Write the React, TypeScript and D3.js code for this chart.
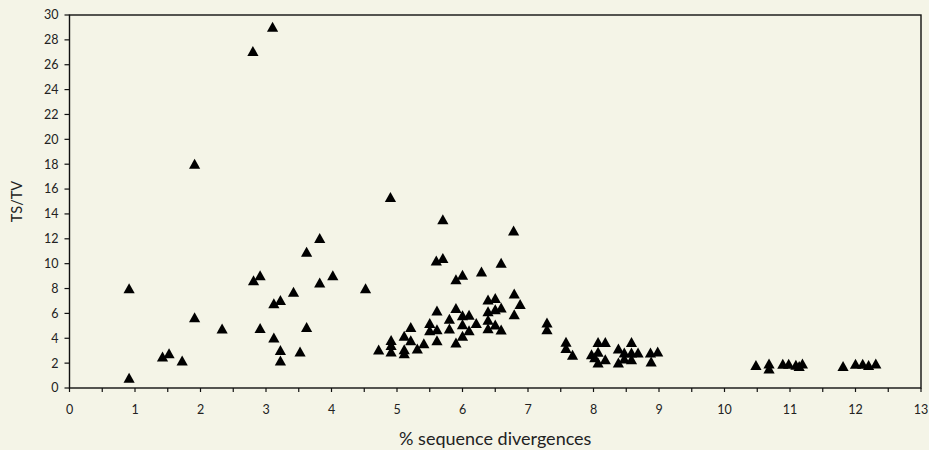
import React from "react";
import * as d3 from "d3";

const xVals = [
  0.91, 0.91, 1.42, 1.52, 1.72, 1.91, 1.91, 2.33, 2.80, 3.10, 2.81, 2.91, 2.91, 3.12, 3.22, 3.12, 3.22, 3.22,
  3.42, 3.52, 3.62, 3.62, 3.82, 3.82, 4.02, 4.52, 4.72,
  4.90, 4.91, 4.91, 4.91, 5.11, 5.11, 5.11, 5.21, 5.21, 5.31, 5.41, 5.50, 5.50, 5.61, 5.61, 5.61, 5.60, 5.70,
  5.70, 5.80, 5.80, 5.90, 5.90, 6.00, 5.90, 6.00, 6.00, 6.00, 6.10, 6.10, 6.21, 6.29, 6.39, 6.50, 6.39, 6.50,
  6.59, 6.39, 6.39, 6.50, 6.59, 6.59, 6.78, 6.79, 6.88, 6.79, 7.29, 7.29, 7.58, 7.58, 7.68,
  7.97, 8.02, 8.07, 8.18, 8.07, 8.18, 8.07, 8.38, 8.38, 8.47, 8.47, 8.58, 8.58, 8.68, 8.58, 8.87, 8.98, 8.88,
  10.48, 10.68, 10.68, 10.89, 10.98, 11.09, 11.19, 11.14, 11.81, 12.0, 12.11, 12.2, 12.31,
];

const yVals = [
  7.95, 0.75, 2.47, 2.73, 2.15, 17.97, 5.63, 4.72, 27.05, 29.0, 8.6, 9.0, 4.77, 6.76, 7.02, 4.0, 3.0, 2.15,
  7.67, 2.87, 10.9, 4.85, 12.0, 8.42, 9.0, 7.96, 3.03,
  15.3, 3.8, 3.4, 2.87, 4.13, 3.06, 2.74, 4.85, 3.78, 3.11, 3.54, 5.17, 4.59, 6.17, 4.67, 3.78, 10.2, 10.4,
  13.5, 5.5, 4.72, 6.38, 8.69, 9.04, 3.6, 5.79, 5.07, 4.13, 5.82, 4.59, 5.17, 9.3, 7.05, 7.18, 6.11, 6.27,
  6.41, 5.42, 4.75, 5.04, 4.64, 10.0, 12.6, 7.54, 6.7, 5.87, 5.2, 4.67, 3.65, 3.15, 2.6,
  2.65, 2.4, 3.64, 3.64, 1.99, 2.25, 2.85, 3.11, 1.99, 2.79, 2.3, 3.64, 2.79, 2.79, 2.25, 2.79, 2.87, 2.07,
  1.78, 1.9, 1.5, 1.89, 1.89, 1.81, 1.91, 1.7, 1.7, 1.89, 1.89, 1.78, 1.91,
];

const xTickLabels = ["0", "1", "2", "3", "4", "5", "6", "7", "8", "9", "10", "11", "12", "13"];
const yTickLabels = ["0", "2", "4", "6", "8", "10", "12", "14", "16", "18", "20", "22", "24", "26", "28", "30"];
const xMinorTicks = d3.range(0, 13.01, 0.5);

const W = 929;
const H = 450;
const FONT = "Lato, 'DejaVu Sans', sans-serif";

export default function App() {
  const x = d3.scaleLinear().domain([0, 13]).range([69.5, 921]);
  const y = d3.scaleLinear().domain([0, 30]).range([388, 15]);
  const tri = "M0,-5.8L5.6,4.2L-5.6,4.2Z";

  return (
    <svg
      width={W}
      height={H}
      style={{ position: "absolute", left: 0, top: 0, background: "#f4f4e7" }}
    >
      <rect x={0} y={0} width={W} height={H} fill="#f4f4e7" />
      <rect
        x={x(0)}
        y={y(30)}
        width={x(13) - x(0)}
        height={y(0) - y(30)}
        fill="none"
        stroke="#111"
        strokeWidth={1.4}
      />
      {yTickLabels.map((t) => (
        <g key={"y" + t}>
          <line x1={x(0) - 5} x2={x(0)} y1={y(+t)} y2={y(+t)} stroke="#111" strokeWidth={1.2} />
          <text
            x={x(0) - 11}
            y={y(+t)}
            dy="0.35em"
            textAnchor="end"
            fontFamily={FONT}
            fontSize={12.5}
            fill="#222"
          >
            {t}
          </text>
        </g>
      ))}
      {xMinorTicks.map((v) => (
        <line
          key={"xm" + v}
          x1={x(v)}
          x2={x(v)}
          y1={y(0)}
          y2={y(0) + 4}
          stroke="#111"
          strokeWidth={1.2}
        />
      ))}
      {xTickLabels.map((t) => (
        <text
          key={"x" + t}
          x={x(+t)}
          y={414}
          textAnchor="middle"
          fontFamily={FONT}
          fontSize={12.5}
          fill="#222"
        >
          {t}
        </text>
      ))}
      <text
        transform={`translate(22,${(y(30) + y(0)) / 2}) rotate(-90)`}
        textAnchor="middle"
        fontFamily={FONT}
        fontSize={14.5}
        fill="#222"
      >
        TS/TV
      </text>
      <text
        x={(x(0) + x(13)) / 2}
        y={445}
        textAnchor="middle"
        fontFamily={FONT}
        fontSize={18}
        fill="#222"
      >
        % sequence divergences
      </text>
      {xVals.map((xv, i) => (
        <path key={"p" + i} d={tri} transform={`translate(${x(xv)},${y(yVals[i])})`} fill="#000" />
      ))}
    </svg>
  );
}
